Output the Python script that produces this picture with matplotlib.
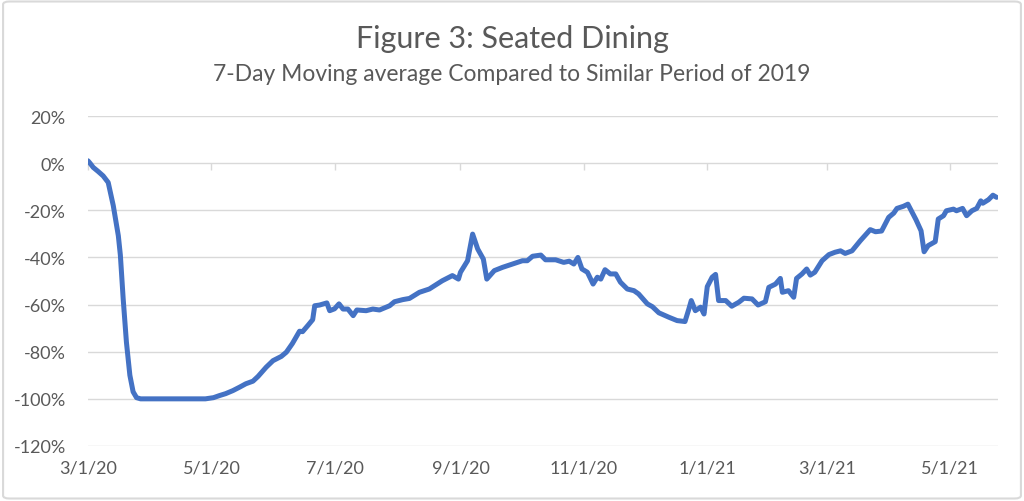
import matplotlib
matplotlib.use("Agg")
import matplotlib.pyplot as plt
import matplotlib.dates as mdates
import matplotlib.ticker as mticker
from matplotlib.patches import FancyBboxPatch
import pandas as pd

# ---- data ----
start_date = "2020-03-01"
day_offset = [0, 1, 2.6, 5, 7.5, 10, 12.5, 15, 16, 17.4, 19, 20.7, 22.3, 24, 26, 58, 62, 65, 68,
              71.6, 75, 78, 81.5, 84, 88, 91.4, 95.5, 98, 101, 104.5, 106, 108.6, 111, 112, 114.4,
              118, 119.4, 121.8, 124, 126, 128.4, 131, 132.8, 137.4, 140.7, 144, 149, 151.4, 155.5,
              158.8, 163.7, 168.6, 175, 180, 183, 184, 187.5, 190, 192.5, 195.3, 197, 200.7, 204.8,
              209.7, 214.6, 217, 219.6, 223.7, 226, 231, 235, 237.7, 240, 242, 244, 246.7, 249.5,
              251.6, 253.3, 255.4, 258, 260.7, 263, 266.4, 269.7, 272, 276.3, 278.8, 282, 287, 291,
              294.9, 296.8, 298, 300, 302.6, 304.3, 305.9, 308.3, 310, 311.5, 315, 318, 321.5, 324,
              328, 331, 334.6, 336.3, 339.6, 342, 343, 346, 348.6, 350, 352.7, 355, 356.8, 359, 362.6,
              366, 369, 371.7, 374, 377.4, 380, 381.5, 386.4, 389, 392, 395.5, 398, 399.6, 402.8, 405,
              409, 411.5, 413, 415, 418.5, 420, 422.6, 424, 427.5, 429, 432, 434, 436.6, 439, 441,
              442, 444.8, 447, 448.8]
pct_change = [1.0, 0.0, -1.8, -3.5, -5.4, -8.2, -18, -30.8, -39, -57.6, -76, -90, -97, -99.5, -100,
              -100, -99.5, -98.6, -97.8, -96.5, -95, -93.6, -92.5, -90.5, -86.6, -83.8, -82, -80.2,
              -76.5, -71.3, -71.5, -68.9, -66.4, -60.5, -60.2, -59.3, -62.6, -61.8, -59.7, -61.9,
              -61.9, -64.7, -62.3, -62.6, -61.9, -62.3, -60.5, -58.8, -57.9, -57.4, -54.8, -53.4,
              -49.9, -47.7, -49.2, -46.3, -41.4, -30.1, -36.4, -40.7, -49.2, -45.6, -44.2, -42.8,
              -41.4, -41.4, -39.5, -39.0, -41, -41, -42.1, -41.6, -42.8, -40, -44.9, -46.3, -51.3,
              -48.4, -49.2, -45.2, -47, -47, -50.5, -53.4, -54.1, -55.5, -59.7, -60.9, -63.5, -65.4,
              -66.8, -67.2, -61.9, -58.3, -62.6, -61.1, -64, -52.4, -48.4, -47.2, -58.3, -58.3,
              -60.7, -59, -57.3, -57.6, -60.2, -58.8, -52.7, -51.3, -48.9, -54.8, -54.1, -56.9,
              -48.9, -47, -44.9, -47.5, -46.3, -41.4, -38.8, -37.8, -37.2, -38.3, -37.2, -34.5,
              -32.9, -28.2, -29.1, -28.8, -23, -21.2, -19.2, -18.3, -17.4, -24, -28.7, -37.6, -35,
              -33.3, -23.7, -22.3, -20.2, -19.5, -20.2, -19.2, -22.3, -20.2, -19.2, -16, -17, -15.5,
              -13.6, -14.5]
y_ticks = [20, 0, -20, -40, -60, -80, -100, -120]
title_text = "Figure 3: Seated Dining"
subtitle_text = "7-Day Moving average Compared to Similar Period of 2019"
x_end_days = 449.5

dates = pd.Timestamp(start_date) + pd.to_timedelta(day_offset, unit="D")
x0 = pd.Timestamp(start_date)
x1 = x0 + pd.Timedelta(days=x_end_days)

# ---- style ----
plt.rcParams["font.family"] = ["Lato", "DejaVu Sans"]
text_color = "#595959"
grid_color = "#d9d9d9"
line_color = "#4472C4"

fig = plt.figure(figsize=(10.24, 5.02), dpi=100)
ax = fig.add_axes([0.0859, 0.1096, 0.8887, 0.6573])

ax.plot(dates, pct_change, color=line_color, lw=3.6, solid_joinstyle="round",
        solid_capstyle="round", zorder=3)

ax.set_xlim(x0, x1)
ax.set_ylim(-120, 20)
ax.set_yticks(y_ticks)
ax.yaxis.set_major_formatter(mticker.FuncFormatter(lambda v, p: f"{int(v)}%"))
ax.grid(axis="y", color=grid_color, lw=1.0, zorder=1)
ax.grid(axis="x", visible=False)
for s in ax.spines.values():
    s.set_visible(False)

ax.xaxis.set_major_locator(mdates.MonthLocator(bymonth=[1, 3, 5, 7, 9, 11]))
ax.xaxis.set_major_formatter(mticker.FuncFormatter(
    lambda v, p: (lambda d: f"{d.month}/{d.day}/{d.year % 100}")(mdates.num2date(v))))
ax.tick_params(axis="both", length=0, labelsize=13, labelcolor=text_color)
ax.tick_params(axis="x", pad=10)
ax.tick_params(axis="y", pad=16)

# horizontal axis line at 0% with tick marks (labels stay at bottom)
sec = ax.secondary_xaxis(120 / 140)
sec.xaxis.set_major_locator(mdates.MonthLocator(bymonth=[1, 3, 5, 7, 9, 11]))
sec.tick_params(axis="x", direction="out", length=5, width=1, color=grid_color,
                labelbottom=False, labeltop=False, bottom=True, top=False)
sec.spines["bottom"].set_color(grid_color)
sec.spines["bottom"].set_linewidth(1.0)
for k in ["top", "left", "right"]:
    sec.spines[k].set_visible(False)

fig.text(0.5, 0.922, title_text, ha="center", va="center", fontsize=22,
         color=text_color)
fig.text(0.5, 0.851, subtitle_text, ha="center", va="center", fontsize=16.5,
         color=text_color)

border = FancyBboxPatch((0.003, 0.005), 0.994, 0.99, boxstyle="round,pad=0,rounding_size=0.006",
                        transform=fig.transFigure, fill=False, ec=grid_color, lw=1.5)
fig.patches.append(border)

fig.savefig("out.png", dpi=100, facecolor="white")
